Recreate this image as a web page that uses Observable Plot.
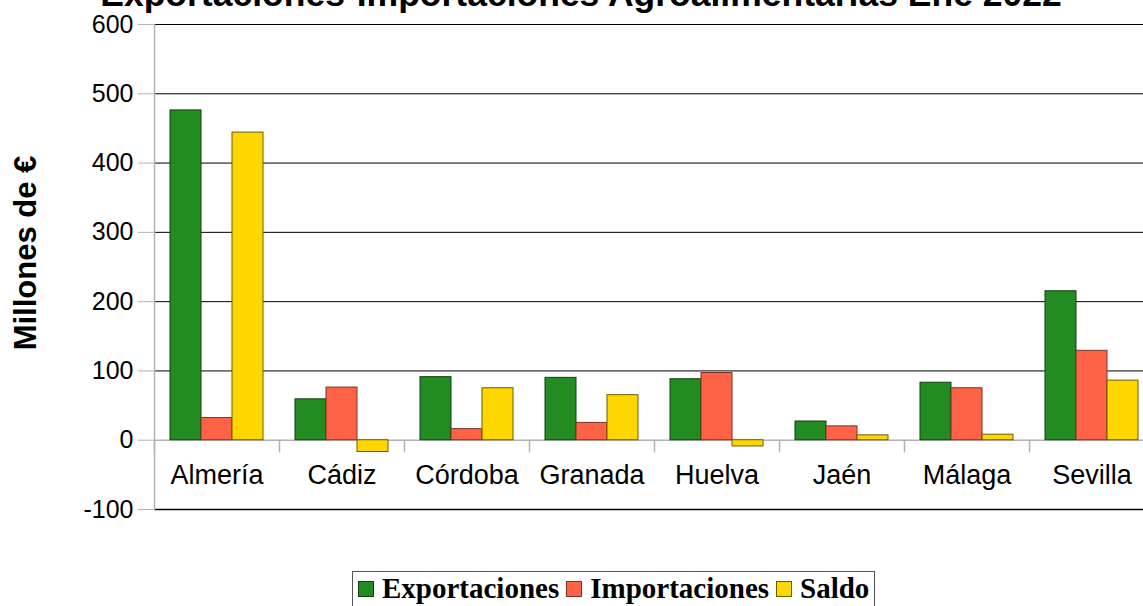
<!DOCTYPE html>
<html>
<head>
<meta charset="utf-8">
<script src="https://cdn.jsdelivr.net/npm/d3@7"></script>
<script src="https://cdn.jsdelivr.net/npm/@observablehq/plot@0.6"></script>
<style>
  html, body { margin: 0; padding: 0; background: white; overflow: hidden; }
  #wrap { position: relative; width: 1143px; height: 606px; overflow: hidden; font-family: "Liberation Sans", Arial, sans-serif; }
  #title { position: absolute; left: 581px; top: -23px; transform: translateX(-50%); white-space: nowrap;
           font: bold 35.5px/35px "Liberation Sans", Arial, sans-serif; color: #000; }
  #ylabel { position: absolute; left: 25px; top: 253px; transform: translate(-50%, -50%) rotate(-90deg); white-space: nowrap;
            font: bold 31px/31px "Liberation Sans", Arial, sans-serif; color: #000; }
  #legend { position: absolute; left: 352px; top: 571px; width: 521px; height: 40px; border: 1px solid #555;
            display: flex; align-items: center; font: bold 29px/1 "Liberation Serif", serif; color: #000; box-sizing: content-box; }
  #legend .sw { display: inline-block; width: 14px; height: 14px; border: 1px solid #222; margin: 0 8px 0 0; }
  #legend .item { display: flex; align-items: center; margin-left: 5px; margin-top: -7px; }
  #legend .item + .item { margin-left: 7px; }
  #chart svg { display: block; overflow: visible; }
</style>
</head>
<body>
<div id="wrap">
  <div id="chart"></div>
  <div id="title"></div>
  <div id="ylabel"></div>
  <div id="legend"></div>
</div>
<script>
const titleText = "Exportaciones-Importaciones Agroalimentarias Ene 2022";
const yLabel = "Millones de €";
const provinces = ["Almería", "Cádiz", "Córdoba", "Granada", "Huelva", "Jaén", "Málaga", "Sevilla"];
const series = ["Exportaciones", "Importaciones", "Saldo"];
const exportaciones = [476, 59, 91, 90, 88, 27, 83, 215];
const importaciones = [32, 76, 16, 25, 97, 20, 75, 129];
const saldo = [444, -17, 75, 65, -9, 7, 8, 86];
const yTicks = [-100, 0, 100, 200, 300, 400, 500, 600];
const colors = ["#228b22", "#ff6347", "#ffd700"];
const strokes = ["#133f13", "#7a3526", "#6e5c00"];

const values = [exportaciones, importaciones, saldo];
const rows = provinces.flatMap((p, i) => series.map((s, j) => ({province: p, series: s, value: values[j][i]})));

document.getElementById("title").textContent = titleText;
document.getElementById("ylabel").textContent = yLabel;

const bars = series.map((s, j) => Plot.barY(rows.filter(d => d.series === s), {
  fx: "province", x: "series", y: "value", fill: colors[j], stroke: strokes[j], strokeWidth: 1
}));

const chart = Plot.plot({
  width: 1143,
  height: 570,
  marginLeft: 154,
  marginRight: -11,
  marginTop: 24,
  marginBottom: 61,
  style: {fontFamily: "Liberation Sans, Arial, sans-serif", color: "black", background: "white"},
  fx: {domain: provinces, padding: 0, axis: null},
  x: {domain: series, paddingInner: 0, paddingOuter: 0.516, axis: null},
  y: {domain: [-100, 600], axis: null},
  marks: [
    Plot.ruleY(yTicks.filter(t => t > 0), {stroke: "black", strokeWidth: 1}),
    Plot.ruleY([-100], {stroke: "black", strokeWidth: 1.5}),
    Plot.ruleY([0], {stroke: "#b3b3b3", strokeWidth: 1.5}),
    Plot.frame({anchor: "left", stroke: "#b3b3b3", strokeWidth: 1.5, insetTop: 416, insetBottom: 58}),
    Plot.frame({anchor: "left", stroke: "#b3b3b3", strokeWidth: 1.5, facetAnchor: "left"}),
    Plot.axisY({ticks: yTicks, tickSize: 16, tickPadding: 5, fontSize: 25, stroke: "#b3b3b3", fill: "black", label: null, tickFormat: d => String(d)}),
    ...bars,
    Plot.text(provinces, {fx: d => d, y: () => 0, text: d => d, dy: 35, fontSize: 27, fill: "black"})
  ]
});
document.getElementById("chart").appendChild(chart);

const legend = document.getElementById("legend");
series.forEach((s, j) => {
  const item = document.createElement("span");
  item.className = "item";
  const sw = document.createElement("span");
  sw.className = "sw";
  sw.style.background = colors[j];
  sw.style.borderColor = strokes[j];
  const t = document.createElement("span");
  t.textContent = s;
  item.appendChild(sw);
  item.appendChild(t);
  legend.appendChild(item);
});
</script>
</body>
</html>
